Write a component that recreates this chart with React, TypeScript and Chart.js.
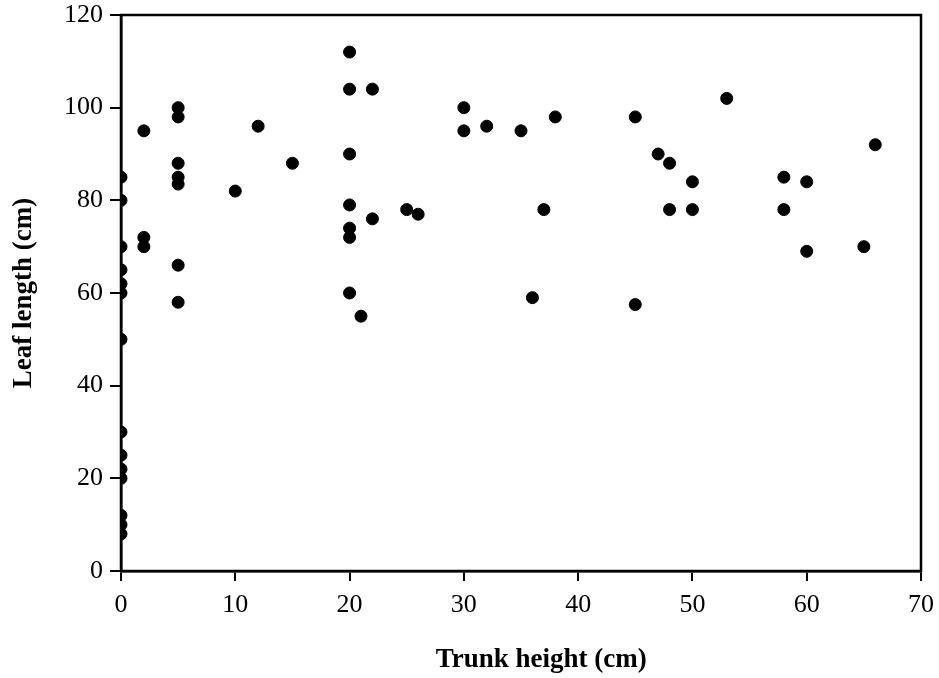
import React, { useEffect, useRef } from "react";
import { Chart, registerables } from "chart.js";

Chart.register(...registerables);

// Trunk height (cm) and leaf length (cm) of each plant
const trunkHeight: number[] = [
  0, 0, 0, 0, 0, 0, 0, 0, 0, 0, 0, 0, 0, 0,
  2, 2, 2,
  5, 5, 5, 5, 5, 5, 5,
  10, 12, 15,
  20, 20, 20, 20, 20, 20, 20,
  21, 22, 22, 25, 26,
  30, 30, 32, 35, 36, 37, 38,
  45, 45, 47, 48, 48, 50, 50, 53,
  58, 58, 60, 60, 65, 66,
];
const leafLength: number[] = [
  85, 80, 70, 65, 62, 60, 50, 30, 25, 22, 20, 12, 10, 8,
  95, 72, 70,
  100, 98, 88, 85, 83.5, 66, 58,
  82, 96, 88,
  112, 104, 90, 79, 74, 72, 60,
  55, 104, 76, 78, 77,
  100, 95, 96, 95, 59, 78, 98,
  98, 57.5, 90, 88, 78, 84, 78, 102,
  85, 78, 84, 69, 70, 92,
];

const xTicks: number[] = [0, 10, 20, 30, 40, 50, 60, 70];
const yTicks: number[] = [0, 20, 40, 60, 80, 100, 120];

const xTitle = "Trunk height (cm)";
const yTitle = "Leaf length (cm)";

const framePlugin = {
  id: "frame",
  beforeDatasetsDraw(chart: any) {
    const { ctx, chartArea } = chart;
    ctx.save();
    ctx.strokeStyle = "#000";
    ctx.lineWidth = 2.5;
    ctx.strokeRect(
      chartArea.left,
      chartArea.top,
      chartArea.right - chartArea.left,
      chartArea.bottom - chartArea.top
    );
    ctx.restore();
  },
};

export default function App() {
  const canvasRef = useRef<HTMLCanvasElement | null>(null);

  useEffect(() => {
    document.body.style.margin = "0";
    const canvas = canvasRef.current;
    if (!canvas) return;
    const points = trunkHeight.map((x, i) => ({ x, y: leafLength[i] }));
    const tickFont = { family: "'Liberation Serif', 'Times New Roman', serif", size: 26 };
    const titleFont = {
      family: "'Liberation Serif', 'Times New Roman', serif",
      size: 27,
      weight: "bold" as const,
    };
    const chart = new Chart(canvas, {
      type: "scatter",
      data: {
        datasets: [
          {
            data: points,
            backgroundColor: "#000",
            borderColor: "#000",
            borderWidth: 1,
            pointRadius: 6,
            pointHoverRadius: 6,
          },
        ],
      },
      options: {
        animation: false,
        responsive: true,
        maintainAspectRatio: false,
        layout: { padding: { top: 15, right: 18, bottom: 0, left: 0 } },
        plugins: {
          legend: { display: false },
          tooltip: { enabled: false },
        },
        scales: {
          x: {
            type: "linear",
            min: 0,
            max: 70,
            afterFit: (scale: any) => {
              scale.height = 107;
              scale.paddingLeft = 0;
              scale.paddingRight = 0;
            },
            afterBuildTicks: (scale: any) => {
              scale.ticks = xTicks.map((v) => ({ value: v }));
            },
            ticks: {
              color: "#000",
              font: tickFont,
              padding: 9,
              maxRotation: 0,
            },
            grid: {
              display: true,
              drawOnChartArea: false,
              drawTicks: true,
              tickLength: 10,
              color: "#000",
              lineWidth: 2,
            },
            border: { display: true, color: "#000", width: 2.5 },
            title: {
              display: true,
              text: "      " + xTitle,
              color: "#000",
              font: titleFont,
              padding: { top: 0, bottom: 2 },
            },
          },
          y: {
            type: "linear",
            min: 0,
            max: 120,
            afterFit: (scale: any) => {
              scale.width = 121;
              scale.paddingTop = 0;
              scale.paddingBottom = 0;
            },
            afterBuildTicks: (scale: any) => {
              scale.ticks = yTicks.map((v) => ({ value: v }));
            },
            ticks: {
              color: "#000",
              font: tickFont,
              padding: 7,
            },
            grid: {
              display: true,
              drawOnChartArea: false,
              drawTicks: true,
              tickLength: 11,
              color: "#000",
              lineWidth: 2,
            },
            border: { display: true, color: "#000", width: 2.5 },
            title: {
              display: true,
              text: yTitle,
              color: "#000",
              font: titleFont,
              padding: { top: 8, bottom: 0 },
            },
          },
        },
      },
      plugins: [framePlugin],
    });
    return () => chart.destroy();
  }, []);

  return (
    <div style={{ position: "relative", width: 939, height: 678 }}>
      <canvas ref={canvasRef} />
    </div>
  );
}
